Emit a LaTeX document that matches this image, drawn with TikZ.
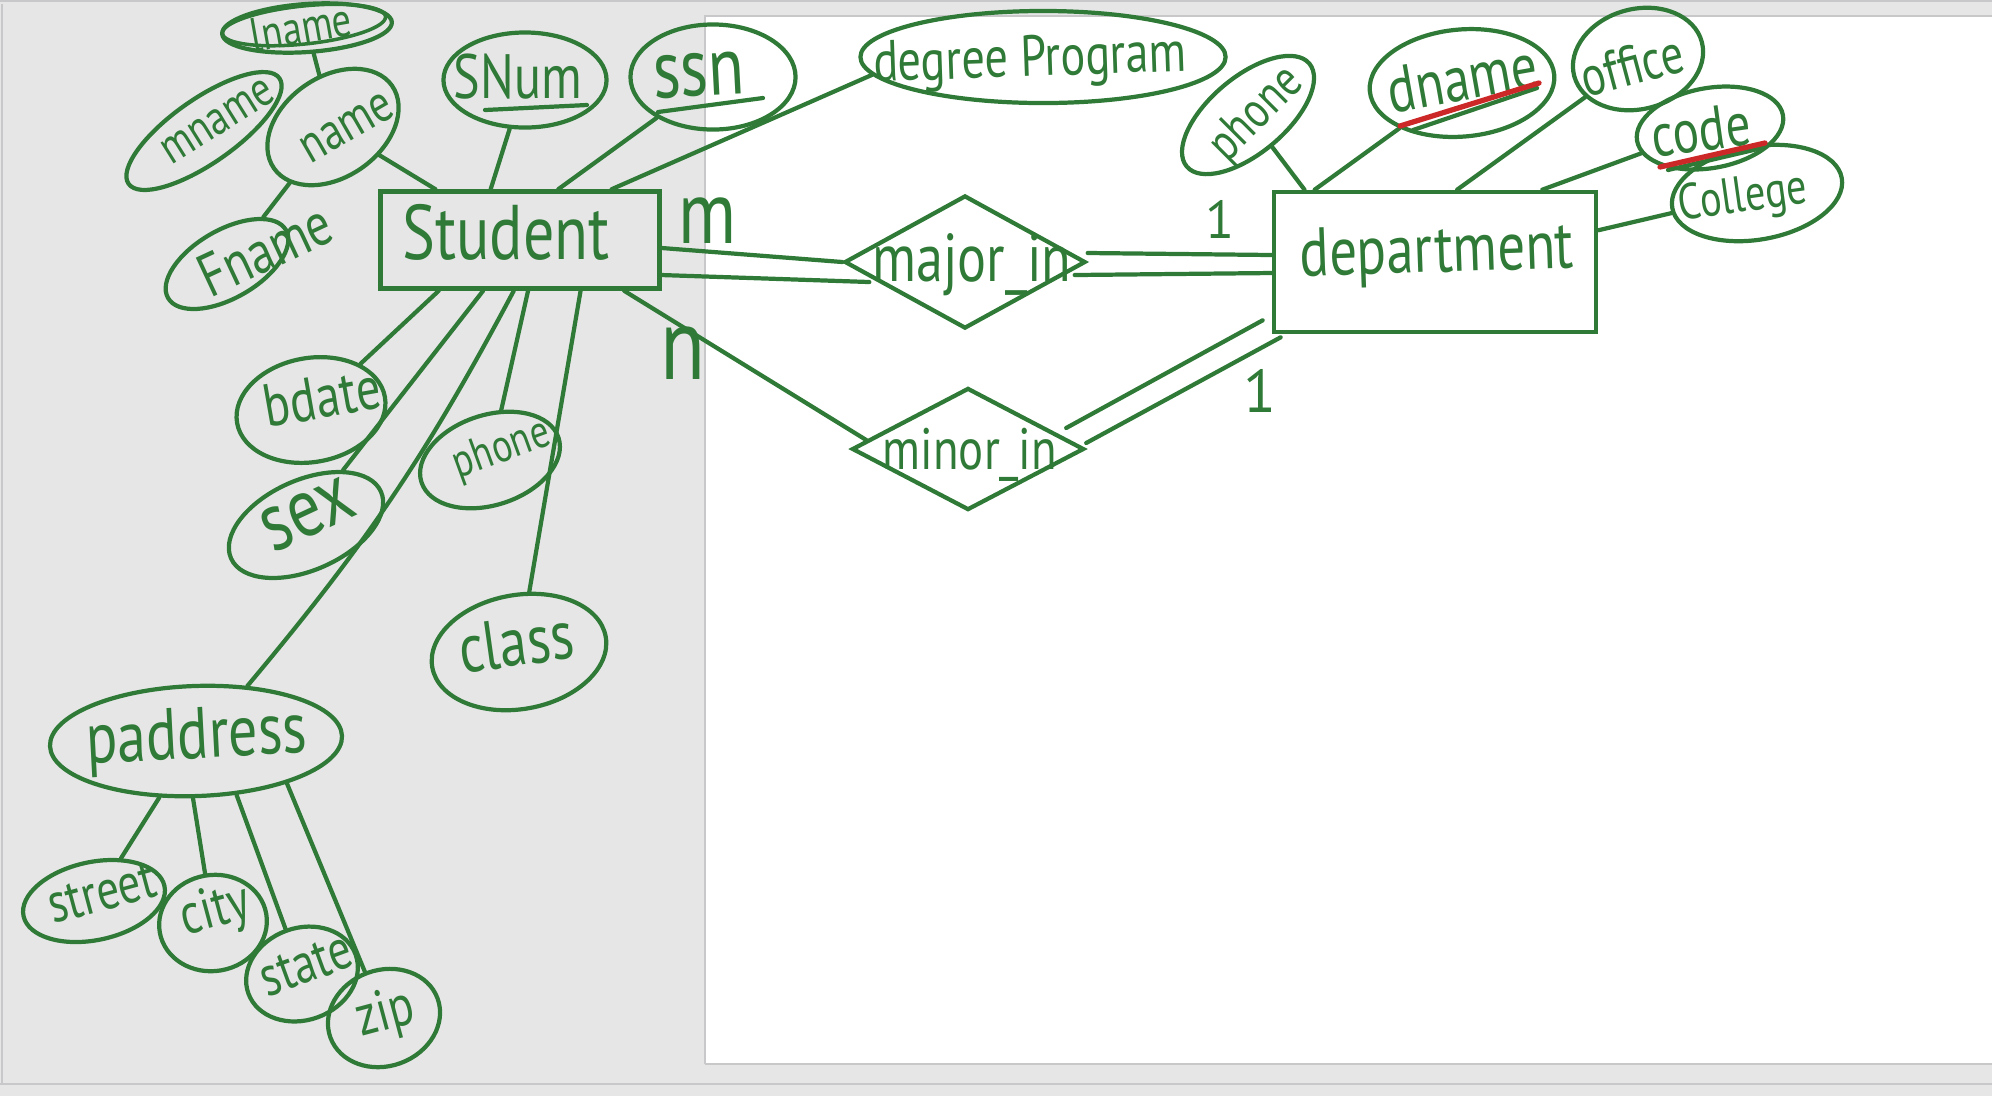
\documentclass[tikz,border=0pt]{standalone}
\usepackage{fontspec}
\setmainfont{PT Sans}
\usetikzlibrary{shapes.geometric}
\definecolor{ink}{RGB}{48,122,56}
\definecolor{redink}{RGB}{205,40,40}
\definecolor{bggray}{RGB}{230,230,231}
\definecolor{edgegray}{RGB}{200,200,202}
\newcommand\hw[2]{\resizebox{#1mm}{!}{\scalebox{1}[1.25]{#2}}}
\newcommand\hh[2]{\resizebox{!}{#1mm}{#2}}
\newsavebox\tbox
% #1 width (mm), #2 dx (mm), #3 dy (mm, up), #4 extra rotation, #5 text
\newcommand\lab[5]{%
  \sbox\tbox{\rotatebox[origin=c]{#4}{\hw{#1}{#5}}}%
  \raisebox{\dimexpr #3mm-(\ht\tbox-\dp\tbox)/2\relax}[0pt][0pt]{\makebox[0pt]{\hspace*{#2mm}\hspace*{#2mm}\usebox\tbox}}}
\begin{document}
\begin{tikzpicture}[x=0.01cm,y=-0.01cm,
  attr/.style 2 args={ellipse, draw=ink, text=ink, line width=1.2pt, inner sep=0pt, minimum width=#1mm, minimum height=#2mm},
  ent/.style 2 args={rectangle, draw=ink, text=ink, line width=1.3pt, inner sep=0pt, minimum width=#1mm, minimum height=#2mm},
  rel/.style 2 args={diamond, draw=ink, text=ink, line width=1.2pt, inner sep=0pt, minimum width=#1mm, minimum height=#2mm},
  txt/.style={text=ink, inner sep=0pt},
  ln/.style={draw=ink, line width=1.2pt, line cap=round},
  uline/.style={draw=redink, line width=1.5pt, line cap=round},
  frame/.style={draw=edgegray, line width=0.5pt}]
\useasboundingbox (0,0) rectangle (1992,1096);
% background
\fill[bggray] (0,0) rectangle (1992,1096);
\fill[white] (705,16) rectangle (1992,1064);
\draw[frame] (705,1064) -- (705,16) -- (1992,16);
\draw[frame] (705,1064) -- (1992,1064);
\draw[frame] (0,1084) -- (1992,1084);
\draw[frame] (0,1) -- (1992,1);
\draw[frame] (2,4) -- (2,1084);

% ---------- student side ----------
\node[ent={27.9}{9.7}] (st) at (520,240) {\lab{20.7}{-1.4}{0.8}{0}{Student}};

\node[attr={17}{4.8}, rotate=4] (lna) at (307,28) {\lab{10.2}{-0.6}{0.1}{6}{lname}};
\draw[ink, line width=1pt, rotate around={6:(304,25)}] (304,25) ellipse (82 and 19);
\node[attr={18.4}{6.4}, rotate=35] (mn) at (204,131) {\lab{12.5}{1.66}{-0.06}{-3}{mname}};
\node[attr={14.4}{10}, rotate=35] (nm) at (333,127) {\lab{10}{1.09}{-0.88}{-5}{name}};
\node[attr={13.6}{6.8}, rotate=30] (fn) at (227,264) {\lab{14}{3.99}{-0.69}{-5}{Fname}};
\node[attr={16.3}{9.5}] (sn) at (525,80) {\lab{12.8}{-0.7}{0.3}{0}{SNum}};
\node[attr={16.5}{10.5}] (ss) at (713,77) {\lab{9.2}{-1.4}{0.2}{3}{ssn}};
\node[attr={36.5}{9.2}] (dg) at (1043,57) {\lab{31.3}{-1.3}{-0.5}{2}{degree Program}};

\node[attr={15}{10.4}, rotate=10] (bd) at (311,410) {\lab{11.7}{1.31}{1.09}{0}{bdate}};
\node[attr={16.4}{9}, rotate=24] (sx) at (306,525) {\lab{9.5}{0.6}{0.87}{1}{sex}};
\node[attr={14.4}{9}, rotate=18] (sp) at (490,460) {\lab{10}{1.45}{0.58}{2}{phone}};
\node[attr={17.6}{11.4}, rotate=10] (cs) at (519,652) {\lab{11.5}{-0.13}{1.03}{-2}{class}};
\node[attr={29.2}{11}, rotate=2] (pa) at (196,741) {\lab{22.1}{0.1}{0.1}{1}{paddress}};
\node[attr={14.4}{7.8}, rotate=12] (sr) at (94,901) {\lab{11}{0.95}{0.61}{3}{street}};
\node[attr={10.8}{9.6}, rotate=10] (ct) at (213,923) {\lab{7}{0.49}{1.03}{5}{city}};
\node[attr={11.4}{9.2}, rotate=20] (sa) at (302,974) {\lab{9.5}{0.69}{0.71}{0}{state}};
\node[attr={11.4}{9.6}, rotate=20] (zp) at (384,1018) {\lab{5.8}{0.3}{0.2}{-5}{zip}};

% ---------- relationships ----------
\node[rel={24.1}{13.3}] (mj) at (965,262) {\lab{19.9}{0.7}{-0.3}{0}{major\_in}};
\node[rel={23.2}{12.2}] (mi) at (968,449) {\lab{17.4}{0.2}{-0.6}{0}{minor\_in}};

% ---------- department side ----------
\node[ent={32.2}{14}] (de) at (1435,262) {\lab{27.4}{0.2}{0.7}{2}{department}};
\node[attr={16}{7.6}, rotate=40] (dph) at (1248,115) {\lab{11}{0.69}{-0.58}{5}{phone}};
\node[attr={18.5}{10.7}, rotate=5] (dn) at (1462,83) {\lab{15.1}{0.04}{0.5}{5}{dname}};
\node[attr={13.2}{10}, rotate=15] (of) at (1638,59) {\lab{10.4}{-0.74}{-0.42}{0}{office}};
\node[attr={14.8}{8}, rotate=10] (cd) at (1710,128) {\lab{9.9}{-0.92}{-0.04}{-2}{code}};
\node[attr={17.2}{9.3}, rotate=10] (cl) at (1757,193) {\lab{12.9}{-1.48}{-0.35}{-2}{College}};

% cardinalities
\node[txt] (cm) at (708,221) {\hw{5.8}{m}};
\node[txt] (cn) at (683,353) {\hw{4.5}{n}};
\node[txt] (c1a) at (1220,219) {\hh{3.8}{1}};
\node[txt] (c1b) at (1260,391) {\hh{4.3}{1}};

% ---------- connectors ----------
\draw[ln] (lna) -- (nm);
\draw[ln] (nm) -- (st.149);
\draw[ln] (nm) -- (fn);
\draw[ln] (sn) -- (st.120);
\draw[ln] (ss) -- (st.53);
\draw[ln] (dg.186) -- (st.29);
\draw[ln] (bd) -- (st.212);
\draw[ln] (sx.32) -- (st.234);
\draw[ln] (st.263) to[bend left=6] (pa.45);
\draw[ln] (sp) -- (st.279);
\draw[ln] (cs) -- (st.320);
\draw[ln] (pa.-125) -- (sr);
\draw[ln] (pa.-95) -- (ct);
\draw[ln] (pa.-55) -- (sa);
\draw[ln] (pa.-27) -- (zp);

\draw[ln] ([yshift=-0.08cm]st.east) -- (mj.west);
\draw[ln] ([yshift=-0.35cm]st.east) -- ([shift={(0.27cm,-0.2cm)}]mj.west);
\draw[ln] ([yshift=0.09cm]mj.east) -- ([yshift=0.07cm]de.west);
\draw[ln] ([shift={(-0.13cm,-0.13cm)}]mj.east) -- ([yshift=-0.11cm]de.west);
\draw[ln] (st.-26) -- (mi.175);
\draw[ln] ([shift={(-0.2cm,0.21cm)}]mi.east) -- ([shift={(-0.09cm,0.14cm)}]de.south west);
\draw[ln] ([yshift=0.06cm]mi.east) -- ([shift={(0.09cm,-0.03cm)}]de.south west);

\draw[ln] (dph) -- (de.151);
\draw[ln] (dn) -- (de.149);
\draw[ln] (of) -- (de.73);
\draw[ln] (cd) -- (de.34);
\draw[ln] (cl) -- (de.11);

% underlines of keys
\draw[ln] (485,110) -- (587,105);
\draw[ln] (658,112) -- (763,98);
\draw[ln] (1413,130) -- (1537,88);
\draw[uline] (1400,126) -- (1539,83);
\draw[ln] (1668,170) -- (1762,148);
\draw[uline] (1660,167) -- (1765,143);
\end{tikzpicture}
\end{document}
